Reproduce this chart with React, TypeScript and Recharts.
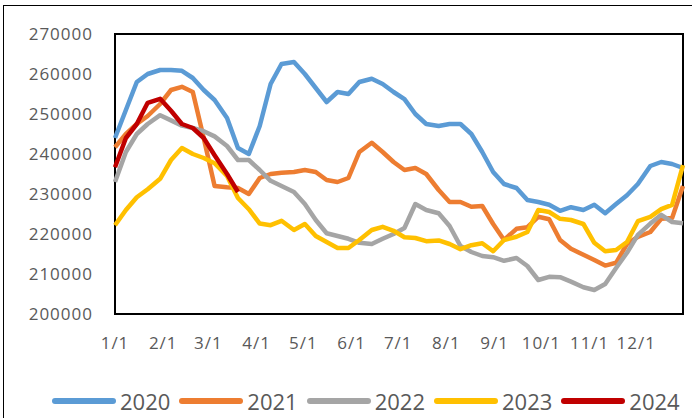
import { LineChart, Line, XAxis, YAxis, ReferenceArea } from 'recharts';

// weekly values
const s2020 = [
  244000, 251000, 258000, 260000, 261000, 261000, 260800, 259000, 256000, 253500,
  249000, 241500, 240000, 247000, 257500, 262500, 263000, 260000, 256500, 253000,
  255500, 255000, 258000, 258800, 257500, 255500, 253700, 250000, 247500, 247000,
  247500, 247500, 245000, 240500, 235500, 232500, 231500, 228500, 228000, 227300,
  225800, 226700, 226000, 227300, 225200, 227500, 229700, 232500, 237000, 238000,
  237500, 236500,
];
const s2021 = [
  241700, 245000, 247500, 249500, 252500, 256000, 256800, 255500, 244000, 232000,
  231700, 231500, 230000, 234000, 235000, 235300, 235500, 236000, 235500, 233500,
  233000, 234000, 240500, 242800, 240500, 238000, 236000, 236500, 235000, 231000,
  228000, 228000, 226800, 227000, 222500, 218500, 221300, 221700, 224300, 223700,
  218500, 216300, 214800, 213500, 212100, 212800, 217500, 219300, 220500, 223800,
  224000, 232000,
];
const s2022 = [
  233000, 240500, 245000, 247500, 249700, 248400, 247100, 246500, 245700, 244400,
  242000, 238500, 238500, 236000, 233300, 232000, 230500, 227500, 223500, 220200,
  219500, 218800, 217800, 217500, 218800, 220000, 221500, 227500, 226000, 225200,
  222000, 217000, 215500, 214500, 214200, 213300, 214000, 212000, 208500, 209300,
  209200, 208100, 206700, 206000, 207500, 211500, 215300, 219800, 222600, 224800,
  223000, 222700,
];
const s2023 = [
  222200, 226000, 229200, 231200, 233800, 238500, 241500, 240000, 239000, 237700,
  234500, 229000, 226200, 222600, 222200, 223300, 221000, 222500, 219500, 218000,
  216500, 216500, 218500, 221000, 221800, 220800, 219200, 219000, 218200, 218400,
  217500, 216200, 217200, 217700, 215700, 218500, 219300, 220500, 226000, 225500,
  223800, 223500, 222500, 217800, 215700, 216000, 218000, 223200, 224300, 226200,
  227300, 237200,
];
const s2024 = [
  236700, 244000, 247500, 252800, 253800, 250800, 247500, 246500, 244000, 239700,
  235000, 230500,
];

const monthStart = [0, 31, 60, 91, 121, 152, 182, 213, 244, 274, 305, 335];
const monthLabels = ['1/1', '2/1', '3/1', '4/1', '5/1', '6/1', '7/1', '8/1', '9/1', '10/1', '11/1', '12/1'];
const yTicks = [200000, 210000, 220000, 230000, 240000, 250000, 260000, 270000];

const series = [
  { key: 'y2020', name: '2020', color: '#5B9BD5', values: s2020 },
  { key: 'y2021', name: '2021', color: '#ED7D31', values: s2021 },
  { key: 'y2022', name: '2022', color: '#A5A5A5', values: s2022 },
  { key: 'y2023', name: '2023', color: '#FFC000', values: s2023 },
  { key: 'y2024', name: '2024', color: '#C00000', values: s2024 },
];

const data = s2020.map((_, i) => {
  const row: Record<string, number> = { day: Math.round((i * 365) / 51) };
  series.forEach((s) => {
    if (i < s.values.length) row[s.key] = s.values[i];
  });
  return row;
});

const font = '"Open Sans", sans-serif';
const tickStyle = { fontSize: 17, fill: '#595959', fontFamily: font, letterSpacing: 1 };

const LegendRow = () => (
  <div
    style={{
      position: 'absolute',
      left: 52,
      top: 386,
      display: 'flex',
      alignItems: 'center',
      fontFamily: font,
      fontSize: 22,
      color: '#595959',
      whiteSpace: 'nowrap',
    }}
  >
    {series.map((s) => (
      <div key={s.key} style={{ display: 'flex', alignItems: 'center', marginRight: 9 }}>
        <div style={{ width: 64, height: 6, borderRadius: 3, background: s.color, marginRight: 4 }} />
        <span>{s.name}</span>
      </div>
    ))}
  </div>
);

export default function App() {
  return (
    <div style={{ position: 'absolute', left: 0, top: 0, width: 692, height: 418, overflow: 'hidden', background: '#fff' }}>
      <div
        style={{
          position: 'absolute',
          left: 3,
          top: 5,
          width: 700,
          height: 430,
          border: '1px solid #000',
        }}
      />
      <LineChart
        width={692}
        height={418}
        data={data}
        margin={{ top: 34, right: 9, bottom: 74, left: 0 }}
      >
        <ReferenceArea
          x1={0}
          x2={365}
          y1={200000}
          y2={270000}
          fill="none"
          stroke="#000"
          strokeWidth={2}
          ifOverflow="visible"
        />
        <XAxis
          type="number"
          dataKey="day"
          domain={[0, 365]}
          ticks={monthStart}
          interval={0}
          tickFormatter={(v: number) => monthLabels[monthStart.indexOf(v)]}
          axisLine={false}
          tickLine={false}
          tickSize={0}
          tickMargin={23}
          height={30}
          tick={tickStyle}
        />
        <YAxis
          domain={[200000, 270000]}
          ticks={yTicks}
          interval={0}
          axisLine={false}
          tickLine={false}
          tickSize={0}
          tickMargin={22}
          width={115}
          tick={tickStyle}
        />
        {series.map((s) => (
          <Line
            key={s.key}
            type="linear"
            dataKey={s.key}
            stroke={s.color}
            strokeWidth={4.5}
            dot={false}
            activeDot={false}
            strokeLinejoin="round"
            isAnimationActive={false}
          />
        ))}
      </LineChart>
      <LegendRow />
    </div>
  );
}
